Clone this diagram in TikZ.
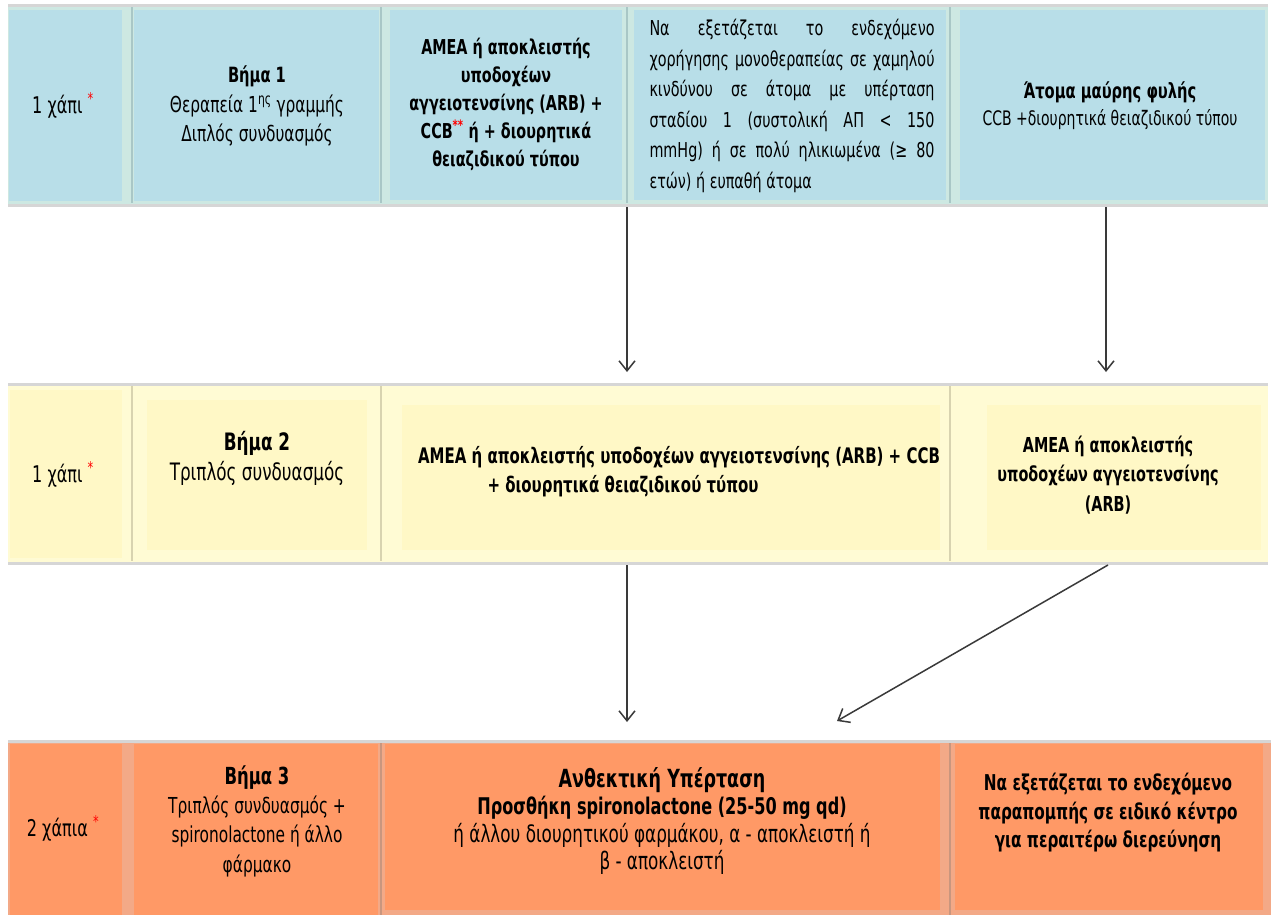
\documentclass[tikz,border=0pt]{standalone}
\usepackage{fontspec}
\setmainfont{DejaVu Sans}[FakeStretch=0.7]
\usetikzlibrary{arrows.meta,fit}
\definecolor{blueband}{HTML}{CDE8E2}
\definecolor{bluebox}{HTML}{B8DEE8}
\definecolor{bluesep}{HTML}{A9C7C6}
\definecolor{yelband}{HTML}{FFFBD4}
\definecolor{yelbox}{HTML}{FFF8C6}
\definecolor{yelsep}{HTML}{D8D3B0}
\definecolor{orgband}{HTML}{F3A987}
\definecolor{orgbox}{HTML}{FF9966}
\definecolor{orgsep}{HTML}{C9967E}
\definecolor{rule}{HTML}{D6D6D6}
\definecolor{arrowc}{HTML}{3A3A3A}
\newcommand{\redstar}[1]{\textcolor{red}{\textsuperscript{#1}}}
\newcommand{\fs}[2]{\fontsize{#1}{#2}\selectfont}
\begin{document}
\begin{tikzpicture}[x=1pt,y=-1pt,
  box/.style={inner sep=0pt, draw=none},
  txt/.style={align=center, inner sep=0pt, font=\fs{20}{29}},
  conn/.style={draw=arrowc, line width=1.5pt, -{Straight Barb[length=10pt,width=16pt,line width=1.5pt]}},
  sep/.style={line width=1.2pt},
  hrule/.style={draw=rule, line width=3pt}]
\useasboundingbox (0,0) rectangle (1271,915);
\fill[white] (0,0) rectangle (1271,915);

% ---------- row 1: first-line therapy ----------
\fill[blueband] (8,6) rectangle (1268,205);
\node[box, fill=bluebox, fit={(9,10) (122,201)}] (b11) {};
\node[box, fill=bluebox, fit={(134,10) (379,201)}] (b12) {};
\node[box, fill=bluebox, fit={(390,10) (622,200)}] (b13) {};
\node[box, fill=bluebox, fit={(634,10) (946,200)}] (b14) {};
\node[box, fill=bluebox, fit={(960,10) (1265,200)}] (b15) {};
\foreach \x in {132,381,627,950} \draw[sep, bluesep] (\x,7) -- (\x,203);
\draw[hrule] (8,5.5) -- (1268,5.5);
\draw[hrule] (8,205) -- (1268,205);

\node[txt, font=\fs{23}{29}] (t11) at (63,105) {1 χάπι \redstar{*}};
\node[txt, font=\fs{22}{29.5}] (t12) at (257,106) {\textbf{\fs{21}{29.5}Βήμα 1}\\Θεραπεία 1\textsuperscript{ης} γραμμής\\Διπλός συνδυασμός};
\node[txt, font=\fs{20.5}{28}\bfseries] (t13) at (506,104)
  {ΑΜΕΑ ή αποκλειστής\\υποδοχέων\\αγγειοτενσίνης (ARB) +\\CCB\redstar{**} ή + διουρητικά\\θειαζιδικού τύπου};
\node[txt, align=left, font=\fs{20.5}{30.5}] (t14) at (792,106)
  {\makebox[285pt][s]{Να εξετάζεται το ενδεχόμενο}\\
   \makebox[285pt][s]{χορήγησης μονοθεραπείας σε χαμηλού}\\
   \makebox[285pt][s]{κινδύνου σε άτομα με υπέρταση}\\
   \makebox[285pt][s]{σταδίου 1 (συστολική ΑΠ < 150}\\
   \makebox[285pt][s]{mmHg) ή σε πολύ ηλικιωμένα (≥ 80}\\
   ετών) ή ευπαθή άτομα};
\node[txt, font=\fs{20}{27}] (t15) at (1110,106) {\textbf{\fs{21}{27}Άτομα μαύρης φυλής}\\CCB +διουρητικά θειαζιδικού τύπου};

% ---------- row 2: triple combination ----------
\fill[yelband] (8,384) rectangle (1268,563);
\node[box, fill=yelbox, fit={(10,390) (122,558)}] (b21) {};
\node[box, fill=yelbox, fit={(147,400) (367,550)}] (b22) {};
\node[box, fill=yelbox, fit={(402,405) (940,550)}] (b23) {};
\node[box, fill=yelbox, fit={(987,405) (1261,550)}] (b24) {};
\foreach \x in {132,381,950} \draw[sep, yelsep] (\x,386) -- (\x,561);
\draw[hrule] (8,384) -- (1268,384);
\draw[hrule] (8,563) -- (1268,563);

\node[txt, font=\fs{23}{29}] (t21) at (63,474) {1 χάπι \redstar{*}};
\node[txt, font=\fs{24}{30}] (t22) at (257,458) {\textbf{Βήμα 2}\\Τριπλός συνδυασμός};
\node[txt, font=\fs{21.4}{29}\bfseries] (t23) at (679,472)
  {ΑΜΕΑ ή αποκλειστής υποδοχέων αγγειοτενσίνης (ARB) + CCB\\+ διουρητικά θειαζιδικού τύπου\hspace*{112pt}};
\node[txt, font=\fs{20.6}{29.5}\bfseries] (t24) at (1108,475)
  {ΑΜΕΑ ή αποκλειστής\\υποδοχέων αγγειοτενσίνης\\(ARB)};

% ---------- row 3: resistant hypertension ----------
\fill[orgband] (8,741) rectangle (1271,915);
\node[box, fill=orgbox, fit={(10,744) (122,915)}] (b31) {};
\node[box, fill=orgbox, fit={(134,744) (378,915)}] (b32) {};
\node[box, fill=orgbox, fit={(385,744) (940,910)}] (b33) {};
\node[box, fill=orgbox, fit={(955,744) (1263,910)}] (b34) {};
\foreach \x in {381,950} \draw[sep, orgsep] (\x,743) -- (\x,915);
\draw[hrule] (8,741) -- (1271,741);

\node[txt, font=\fs{23}{29}] (t31) at (63,828) {2 χάπια \redstar{*}};
\node[txt, font=\fs{22}{29.3}] (t32) at (257,821) {\textbf{\fs{23.5}{29.3}Βήμα 3}\\Τριπλός συνδυασμός +\\spironolactone ή άλλο\\φάρμακο};
\node[txt, font=\fs{24}{27.5}] (t33) at (662,821)
  {\textbf{\fs{25}{27.5}Ανθεκτική Υπέρταση}\\\textbf{\fs{23}{27.5}Προσθήκη spironolactone (25-50 mg qd)}\\ή άλλου διουρητικού φαρμάκου, α - αποκλειστή ή\\β - αποκλειστή};
\node[txt, font=\fs{21.8}{28.5}\bfseries] (t34) at (1108,813)
  {Να εξετάζεται το ενδεχόμενο\\παραπομπής σε ειδικό κέντρο\\για περαιτέρω διερεύνηση};

% ---------- connectors ----------
\coordinate (a1s) at (627,207);
\coordinate (a1e) at (627,372);
\coordinate (a2s) at (1106,207);
\coordinate (a2e) at (1106,372);
\coordinate (a3s) at (627,565);
\coordinate (a3e) at (627,722);
\coordinate (a4s) at (1108,565);
\coordinate (a4e) at (837,721);
\draw[conn] (a1s) -- (a1e);
\draw[conn] (a2s) -- (a2e);
\draw[conn] (a3s) -- (a3e);
\draw[conn] (a4s) -- (a4e);
\end{tikzpicture}
\end{document}
